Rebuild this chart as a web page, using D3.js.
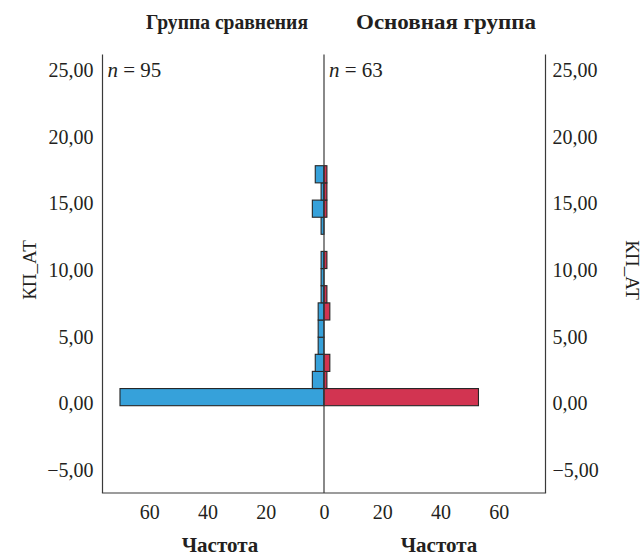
<!DOCTYPE html>
<html><head><meta charset="utf-8">
<script src="https://cdn.jsdelivr.net/npm/d3@7"></script>
<style>
html,body{margin:0;padding:0;background:#fff;}
svg text{font-family:"Liberation Serif","Times New Roman",serif;fill:#231f20;}
</style></head>
<body>
<svg id="chart" width="643" height="556"></svg>
<script>
// ---- data ----
const groupNames = ["Группа сравнения", "Основная группа"];
const groupN = [95, 63];
const binLowerEdges = [-0.18, 1.11, 2.39, 3.68, 4.96, 6.25, 7.54, 8.82, 10.11, 11.39, 12.68, 13.96, 15.25, 16.54];
const binWidth = 1.2857;
const countsComparison = [70, 4, 3, 2, 2, 2, 1, 1, 1, 0, 1, 4, 1, 3];
const countsMain       = [53, 1, 2, 0, 0, 2, 1, 0, 1, 0, 0, 1, 1, 1];
const yTicks = [-5, 0, 5, 10, 15, 20, 25];
const xTicks = [0, 20, 40, 60];
const yAxisTitle = "КП_АТ";
const xAxisTitle = "Частота";

// ---- layout ----
const svg = d3.select("#chart");
const pTop = 54.5, pBottom = 493, pLeft = 102.5, pMid = 324, pRight = 545.5;
const y = d3.scaleLinear().domain([-6.73, 26.17]).range([pBottom, pTop]);
const xL = d3.scaleLinear().domain([0, 76]).range([pMid, pLeft]);
const xR = d3.scaleLinear().domain([0, 76]).range([pMid, pRight]);
const blue = "#36a1da", red = "#d23451", edge = "#262626";
const fmt = d3.formatLocale({decimal: ",", thousands: " ", grouping: [3], currency: ["", ""], minus: "\u2212"}).format(".2f");

const bins = binLowerEdges.map((lo, i) => ({lo, hi: lo + binWidth, c: countsComparison[i], m: countsMain[i]}));

svg.append("g").selectAll("rect").data(bins.filter(d => d.c > 0)).join("rect")
  .attr("x", d => xL(d.c)).attr("width", d => xL(0) - xL(d.c))
  .attr("y", d => y(d.hi)).attr("height", d => y(d.lo) - y(d.hi))
  .attr("fill", blue).attr("stroke", edge).attr("stroke-width", 1.1);

svg.append("g").selectAll("rect").data(bins.filter(d => d.m > 0)).join("rect")
  .attr("x", xR(0)).attr("width", d => xR(d.m) - xR(0))
  .attr("y", d => y(d.hi)).attr("height", d => y(d.lo) - y(d.hi))
  .attr("fill", red).attr("stroke", edge).attr("stroke-width", 1.1);

// frame lines
const frame = svg.append("g").attr("stroke", "#3a3a3a").attr("stroke-width", 1.2).attr("fill", "none");
[pLeft, pMid, pRight].forEach(x => frame.append("line").attr("x1", x).attr("x2", x).attr("y1", pTop).attr("y2", pBottom));
frame.append("line").attr("x1", pLeft - 0.6).attr("x2", pRight + 0.6).attr("y1", pBottom).attr("y2", pBottom);

// y axes
const yAxL = svg.append("g").attr("transform", `translate(${pLeft - 9},0)`)
  .call(d3.axisLeft(y).tickValues(yTicks).tickSize(0).tickPadding(0).tickFormat(fmt));
const yAxR = svg.append("g").attr("transform", `translate(${pRight + 7},0)`)
  .call(d3.axisRight(y).tickValues(yTicks).tickSize(0).tickPadding(0).tickFormat(fmt));
[yAxL, yAxR].forEach(g => {
  g.select(".domain").remove();
  g.selectAll("text").attr("font-size", 20).attr("font-family", "Liberation Serif").attr("fill", "#231f20");
});

// x axes
const xAxL = svg.append("g").attr("transform", `translate(0,${pBottom + 11})`)
  .call(d3.axisBottom(xL).tickValues(xTicks.slice(1)).tickSize(0).tickPadding(0).tickFormat(d3.format("d")));
const xAxR = svg.append("g").attr("transform", `translate(0,${pBottom + 11})`)
  .call(d3.axisBottom(xR).tickValues(xTicks).tickSize(0).tickPadding(0).tickFormat(d3.format("d")));
[xAxL, xAxR].forEach(g => {
  g.select(".domain").remove();
  g.selectAll("text").attr("font-size", 20).attr("font-family", "Liberation Serif").attr("fill", "#231f20").attr("dy", "0.75em");
});

// titles
svg.append("text").attr("x", 227).attr("y", 29).attr("text-anchor", "middle")
  .attr("font-size", 21).attr("font-weight", "bold")
  .attr("textLength", 162).attr("lengthAdjust", "spacingAndGlyphs").text(groupNames[0]);
svg.append("text").attr("x", 446).attr("y", 29).attr("text-anchor", "middle")
  .attr("font-size", 21).attr("font-weight", "bold")
  .attr("textLength", 180).attr("lengthAdjust", "spacingAndGlyphs").text(groupNames[1]);

// n labels
function nLabel(x, n) {
  const t = svg.append("text").attr("x", x).attr("y", y(25) + 7).attr("font-size", 21);
  t.append("tspan").attr("font-style", "italic").text("n");
  t.append("tspan").text(" = " + n);
}
nLabel(pLeft + 5, groupN[0]);
nLabel(pMid + 5, groupN[1]);

// x titles
svg.append("text").attr("x", 220).attr("y", 552).attr("text-anchor", "middle")
  .attr("font-size", 21).attr("font-weight", "bold").text(xAxisTitle);
svg.append("text").attr("x", 439).attr("y", 552).attr("text-anchor", "middle")
  .attr("font-size", 21).attr("font-weight", "bold").text(xAxisTitle);

// y titles
svg.append("text").attr("transform", `translate(36,${y(10)}) rotate(-90)`).attr("text-anchor", "middle")
  .attr("font-size", 19).text(yAxisTitle);
svg.append("text").attr("transform", `translate(626,${y(10)}) rotate(90)`).attr("text-anchor", "middle")
  .attr("font-size", 19).text(yAxisTitle);
</script>
</body></html>
